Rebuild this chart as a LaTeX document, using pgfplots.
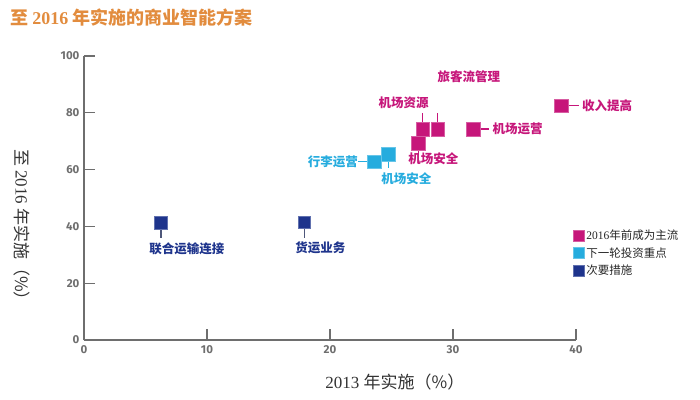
\documentclass[border=0pt]{standalone}
\usepackage{pgfplots}
\pgfplotsset{compat=1.18}
\usepackage{fontspec}
\setmainfont{Liberation Serif}
\newfontfamily\cjk{Noto Sans CJK SC}
\newfontfamily\tickfont{Fira Sans}
\definecolor{mag}{RGB}{198,22,122}
\definecolor{cya}{RGB}{38,172,222}
\definecolor{nav}{RGB}{30,52,140}
\definecolor{ttl}{RGB}{226,140,62}
\definecolor{axg}{RGB}{110,110,110}
\begin{document}
\begin{tikzpicture}
\useasboundingbox (-84pt,-59pt) rectangle (616pt,340pt);
\begin{axis}[
  at={(0pt,0pt)}, anchor=south west,
  scale only axis, width=492pt, height=284pt,
  xmin=0, xmax=40, ymin=0, ymax=100,
  axis x line=bottom, axis y line=left,
  axis line style={-, draw=axg, line width=1.3pt},
  xtick={0,10,20,30,40}, ytick={0,20,40,60,80,100},
  tick align=inside, major tick length=11pt,
  tick style={draw=axg, line width=1.2pt},
  /pgf/number format/assume math mode=true,
  ticklabel style={font=\tickfont\bfseries\fontsize{11.5}{13}\selectfont, text=axg},
  xticklabel style={yshift=-2pt},
  yticklabel style={xshift=-1pt},
  xlabel={{\fontsize{17}{20}\selectfont 2013 \cjk 年实施（\%）}},
  ylabel={{\fontsize{17}{20}\selectfont \cjk 至 {\rmfamily 2016} 年实施（\%）}},
  xlabel style={at={(axis description cs:0.632,-0.148)}, anchor=center, text=black!80},
  ylabel style={at={(axis description cs:-0.126,0.39)}, anchor=center, rotate=180, text=black!80},
  clip=false,
  legend style={at={(axis description cs:0.994,0.366)}, anchor=north west, draw=none, fill=none,
    font=\cjk\fontsize{11.5}{13}\selectfont, row sep=2pt, inner sep=0pt,
    legend cell align=left, text=black!85, yshift=8pt},
  legend image code/.code={\draw[#1, mark size=5.5pt] plot coordinates {(0.3cm,0cm)};},
]
\addplot[only marks, mark=square*, mark size=6.8pt, color=mag, mark options={fill=mag, draw=mag!70!white}] coordinates {
  (38.78,82.5) (31.65,74.3) (28.76,74.3) (27.54,74.3) (27.18,69.3)
};
\addlegendentry{{\rmfamily 2016}年前成为主流}
\addplot[only marks, mark=square*, mark size=6.8pt, color=cya, mark options={fill=cya, draw=cya!70!white}] coordinates {
  (24.74,65.4) (23.58,62.8)
};
\addlegendentry{下一轮投资重点}
\addplot[only marks, mark=square*, mark size=6.3pt, color=nav, mark options={fill=nav, draw=nav!70!white}] coordinates {
  (6.26,41.4) (17.91,41.5)
};
\addlegendentry{次要措施}

% stems
\draw[mag, line width=1.2pt] ([xshift=7pt]axis cs:38.78,82.5) -- ++(11pt,0);
\draw[mag, line width=1.2pt] ([xshift=7pt]axis cs:31.65,74.3) -- ++(9pt,0);
\draw[mag, line width=1.2pt] ([yshift=7pt]axis cs:28.76,74.3) -- ++(0,9pt);
\draw[mag, line width=1.2pt] ([yshift=7pt]axis cs:27.54,74.3) -- ++(0,9pt);
\draw[mag, line width=1.2pt] ([yshift=-7pt]axis cs:27.18,69.3) -- ++(0,-5pt);
\draw[cya, line width=1.2pt] ([yshift=-7pt]axis cs:24.74,65.4) -- ++(0,-7pt);
\draw[cya, line width=1.2pt] ([xshift=-7pt]axis cs:23.58,62.8) -- ++(-9pt,0);
\draw[axg!60!nav, line width=1.2pt] ([yshift=-6.5pt]axis cs:6.26,41.4) -- ++(0,-9pt);
\draw[axg!60!nav, line width=1.2pt] ([yshift=-6.5pt]axis cs:17.91,41.5) -- ++(0,-9pt);

% labels
\tikzset{lab/.style={font=\cjk\bfseries\fontsize{12.5}{14}\selectfont, inner sep=0pt}}
\node[lab, text=mag, anchor=west] at ([xshift=21pt]axis cs:38.78,82.5) {收入提高};
\node[lab, text=mag, anchor=west] at ([xshift=19pt]axis cs:31.65,74.3) {机场运营};
\node[lab, text=mag] at ([xshift=31pt,yshift=52pt]axis cs:28.76,74.3) {旅客流管理};
\node[lab, text=mag] at ([xshift=-19pt,yshift=26pt]axis cs:27.54,74.3) {机场资源};
\node[lab, text=mag] at ([xshift=15pt,yshift=-16pt]axis cs:27.18,69.3) {机场安全};
\node[lab, text=cya] at ([xshift=18pt,yshift=-24pt]axis cs:24.74,65.4) {机场安全};
\node[lab, text=cya, anchor=east] at ([xshift=-16pt]axis cs:23.58,62.8) {行李运营};
\node[lab, text=nav] at ([xshift=26pt,yshift=-26pt]axis cs:6.26,41.4) {联合运输连接};
\node[lab, text=nav] at ([xshift=16pt,yshift=-26pt]axis cs:17.91,41.5) {货运业务};
\end{axis}
\node[anchor=west, text=ttl, font=\cjk\bfseries\fontsize{18}{20}\selectfont, inner sep=0pt] at (-74pt,322pt) {至 {\rmfamily\bfseries 2016} 年实施的商业智能方案};
\end{tikzpicture}
\end{document}
